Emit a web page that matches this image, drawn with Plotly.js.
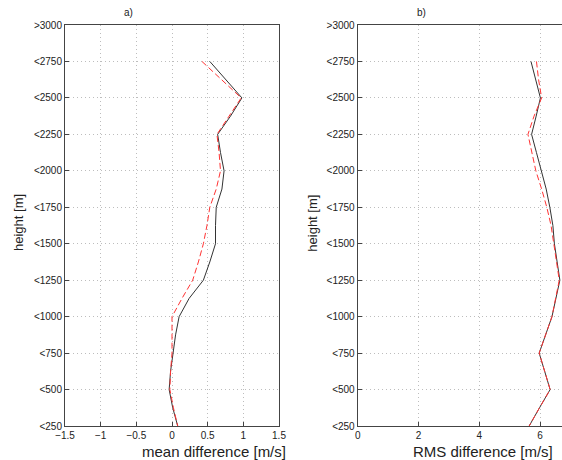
<!DOCTYPE html>
<html>
<head>
<meta charset="utf-8">
<script src="https://cdn.plot.ly/plotly-3.0.1.min.js"></script>
<style>html,body{margin:0;padding:0;background:#fff;}#chart{width:562px;height:460px;}</style>
</head>
<body>
<div id="chart"></div>
<script>
// heights [m]
const heights = [2750, 2625, 2500, 2375, 2250, 2125, 2000, 1875, 1750, 1625, 1500, 1375, 1250, 1125, 1000, 875, 750, 625, 500, 375, 250];
// panel a) mean difference [m/s]
const meanSolid  = [0.53, 0.75, 0.98, 0.82, 0.64, 0.68, 0.73, 0.70, 0.62, 0.61, 0.61, 0.53, 0.44, 0.24, 0.10, 0.05, 0.01, -0.02, -0.04, 0.01, 0.08];
const meanDashed = [0.42, 0.70, 0.97, 0.80, 0.63, 0.66, 0.68, 0.62, 0.53, 0.49, 0.44, 0.37, 0.29, 0.14, 0.00, 0.00, 0.00, -0.02, -0.03, 0.02, 0.08];
// panel b) RMS difference [m/s]
const rmsSolid  = [5.70, 5.85, 6.01, 5.87, 5.72, 5.88, 6.03, 6.20, 6.32, 6.42, 6.47, 6.56, 6.65, 6.52, 6.39, 6.18, 5.97, 6.15, 6.33, 5.98, 5.64];
const rmsDashed = [5.88, 5.95, 6.05, 5.80, 5.60, 5.72, 5.86, 6.05, 6.22, 6.36, 6.44, 6.54, 6.63, 6.52, 6.39, 6.18, 5.97, 6.15, 6.33, 5.98, 5.64];
// tick labels
const yTickVals = [250, 500, 750, 1000, 1250, 1500, 1750, 2000, 2250, 2500, 2750, 3000];
const yTickText = ["<250", "<500", "<750", "<1000", "<1250", "<1500", "<1750", "<2000", "<2250", "<2500", "<2750", ">3000"];
const xTickValsA = [-1.5, -1, -0.5, 0, 0.5, 1, 1.5];
const xTickValsB = [0, 2, 4, 6];

const solid = {color: '#333333', width: 1};
const dashed = {color: '#ff3333', width: 1, dash: '6px,3px'};

const traces = [
  {x: meanSolid, y: heights, mode: 'lines', line: solid, xaxis: 'x', yaxis: 'y', showlegend: false},
  {x: meanDashed, y: heights, mode: 'lines', line: dashed, xaxis: 'x', yaxis: 'y', showlegend: false},
  {x: rmsSolid, y: heights, mode: 'lines', line: solid, xaxis: 'x2', yaxis: 'y2', showlegend: false},
  {x: rmsDashed, y: heights, mode: 'lines', line: dashed, xaxis: 'x2', yaxis: 'y2', showlegend: false}
];

const W = 562, H = 460;
const FF = 'Liberation Sans, Arial, sans-serif';
const tickFont = {family: FF, size: 10, color: '#222'};
const axCommon = {
  showline: true, mirror: true, linecolor: '#444', linewidth: 1,
  showgrid: true, gridcolor: '#bdbdbd', griddash: '1px,3px', gridwidth: 1,
  zeroline: false, ticks: 'inside', ticklen: 4, tickcolor: '#444',
  tickfont: tickFont, automargin: false, fixedrange: true
};
const yDom = [1 - 426 / H, 1 - 25 / H];

function ann(text, px, py, size, angle) {
  return {text: text, xref: 'paper', yref: 'paper', x: px / W, y: 1 - py / H,
    xanchor: 'center', yanchor: 'middle', textangle: angle || 0, showarrow: false,
    font: {family: FF, size: size, color: '#222'}};
}

const layout = {
  width: W, height: H,
  margin: {l: 0, r: 0, t: 0, b: 0},
  paper_bgcolor: '#fff', plot_bgcolor: '#fff',
  showlegend: false,
  xaxis: Object.assign({}, axCommon, {domain: [65 / W, 279 / W], range: [-1.5, 1.5], tickvals: xTickValsA, anchor: 'y'}),
  yaxis: Object.assign({}, axCommon, {domain: yDom, range: [250, 3000], tickvals: yTickVals, ticktext: yTickText, anchor: 'x'}),
  xaxis2: Object.assign({}, axCommon, {domain: [357.7 / W, 1], range: [0, 6.72], tickvals: xTickValsB, anchor: 'y2'}),
  yaxis2: Object.assign({}, axCommon, {domain: yDom, range: [250, 3000], tickvals: yTickVals, ticktext: yTickText, anchor: 'x2'}),
  annotations: [
    ann('a)', 128, 13, 10),
    ann('b)', 421.7, 13, 10),
    ann('mean difference [m/s]', 214, 451, 15),
    ann('RMS difference [m/s]', 483, 451, 15),
    ann('height [m]', 18, 223, 13, -90),
    ann('height [m]', 311.7, 223, 13, -90)
  ]
};

Plotly.newPlot('chart', traces, layout, {displayModeBar: false, staticPlot: true});
</script>
</body>
</html>
